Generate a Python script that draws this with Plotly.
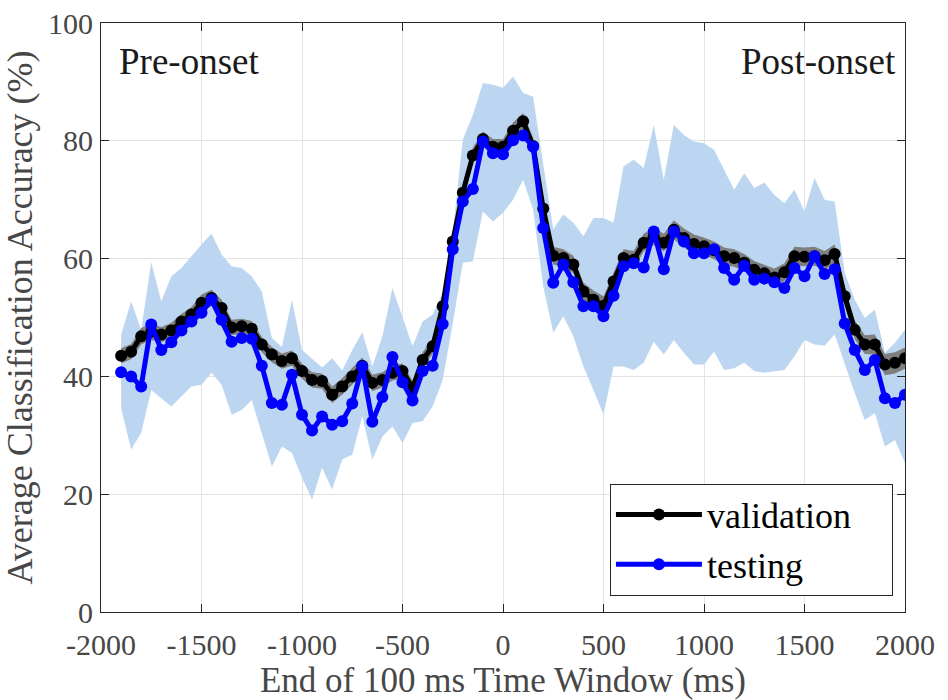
import plotly.graph_objects as go

# ---- data ----
time_ms = list(range(-1900, 2001, 50))

validation = [43.5, 44.2, 46.8, 47.6, 47.1, 47.8, 49.3, 50.5, 52.5, 53.3,
              51.6, 48.3, 48.5, 48.1, 45.4, 43.7, 42.6, 43.1, 40.9, 39.4,
              39.2, 36.9, 38.3, 40.0, 41.8, 38.9, 39.4, 40.6, 40.9, 38.0,
              42.8, 45.1, 51.9, 62.9, 71.2, 77.5, 80.3, 79.0, 79.0, 81.7,
              83.3, 79.1, 68.5, 60.5, 60.1, 59.0, 54.4, 53.0, 52.0, 56.1,
              60.1, 59.8, 62.7, 63.8, 62.7, 64.9, 63.5, 62.5, 62.1, 61.4,
              60.4, 60.1, 59.3, 58.1, 57.5, 56.8, 57.7, 60.4, 60.3, 60.4,
              59.7, 60.8, 53.6, 47.9, 45.4, 45.4, 42.0, 42.3, 43.1]

validation_err = [1.3, 1.3, 1.4, 1.4, 1.3, 1.3, 1.3, 1.3, 1.4, 1.4,
                  1.4, 1.3, 1.3, 1.3, 1.3, 1.3, 1.3, 1.3, 1.3, 1.3,
                  1.3, 1.4, 1.4, 1.4, 1.4, 1.4, 1.3, 1.3, 1.3, 1.3,
                  1.3, 1.3, 1.3, 1.3, 1.3, 1.3, 1.3, 1.3, 1.3, 1.4,
                  1.4, 1.4, 1.4, 1.5, 1.5, 1.5, 1.5, 1.6, 1.6, 1.5,
                  1.5, 1.5, 1.5, 1.5, 1.5, 1.6, 1.6, 1.6, 1.5, 1.5,
                  1.5, 1.5, 1.5, 1.5, 1.5, 1.5, 1.5, 1.6, 1.6, 1.6,
                  1.6, 1.6, 1.6, 1.6, 1.6, 1.7, 1.8, 1.8, 1.8]

testing = [40.7, 40.0, 38.3, 48.8, 44.5, 45.8, 47.8, 49.3, 50.8, 53.0,
           49.6, 45.9, 46.5, 46.4, 41.8, 35.5, 35.2, 40.3, 33.5, 30.8,
           33.2, 31.8, 32.4, 35.4, 41.7, 32.3, 36.5, 43.3, 39.0, 35.9,
           40.9, 41.8, 48.9, 61.6, 69.7, 71.8, 79.9, 77.9, 77.7, 80.1,
           80.9, 79.0, 65.2, 55.9, 59.0, 56.0, 51.9, 51.9, 50.2, 53.7,
           58.7, 59.2, 58.5, 64.6, 58.2, 64.6, 62.9, 60.9, 60.9, 61.6,
           58.4, 56.4, 58.8, 56.4, 56.6, 56.0, 55.0, 58.4, 57.0, 60.4,
           57.4, 58.2, 49.0, 44.5, 41.1, 42.8, 36.3, 35.5, 36.9]

testing_upper = [47.1, 52.7, 47.9, 59.4, 52.7, 57.0, 58.4, 60.4, 62.4, 64.2,
                 60.7, 58.7, 58.4, 57.0, 54.4, 46.5, 45.0, 53.0, 44.5, 43.0,
                 41.5, 43.1, 41.0, 44.5, 47.5, 41.7, 46.8, 55.0, 49.9, 45.1,
                 49.3, 50.5, 54.2, 64.3, 80.2, 84.4, 89.8, 89.5, 89.0, 90.9,
                 88.1, 87.5, 76.0, 65.0, 67.5, 66.1, 63.8, 66.9, 66.9, 66.1,
                 75.7, 76.8, 75.4, 82.7, 73.4, 82.7, 81.0, 79.9, 79.6, 78.5,
                 75.1, 71.7, 74.5, 72.0, 72.9, 70.8, 69.4, 71.7, 68.0, 73.7,
                 70.0, 69.7, 57.6, 53.0, 49.9, 51.3, 44.0, 45.7, 47.9]

testing_lower = [34.6, 27.6, 30.4, 37.7, 36.3, 34.9, 36.6, 38.3, 38.6, 40.6,
                 38.6, 33.5, 34.3, 36.0, 30.4, 24.7, 28.1, 27.0, 22.8, 19.1,
                 24.5, 20.8, 25.9, 26.7, 33.2, 25.9, 29.8, 31.5, 28.7, 32.1,
                 32.4, 34.9, 39.4, 49.0, 59.3, 59.5, 68.0, 66.3, 67.8, 70.0,
                 73.4, 68.3, 55.3, 47.4, 50.2, 46.8, 41.7, 37.7, 33.5, 41.7,
                 41.7, 41.1, 42.3, 45.9, 43.7, 46.2, 44.0, 42.0, 42.0, 44.2,
                 41.1, 41.4, 42.3, 40.9, 40.6, 40.9, 41.1, 43.4, 46.2, 45.4,
                 45.2, 47.1, 42.3, 37.2, 32.6, 33.8, 28.1, 29.2, 25.3]

x_ticks = [-2000, -1500, -1000, -500, 0, 500, 1000, 1500, 2000]
x_tick_labels = ["-2000", "-1500", "-1000", "-500", "0", "500", "1000", "1500", "2000"]
y_ticks = [0, 20, 40, 60, 80, 100]
series_names = ["validation", "testing"]

# ---- styles ----
FONT = "Liberation Serif"
TXT = "#474747"
BAND_BLUE = "#bcd6f1"
BAND_GREY = "#7f7f7f"
PAD = "\u00a0" * 4  # trailing room inside the legend box

fig = go.Figure()

# testing variability band
fig.add_trace(go.Scatter(
    x=time_ms + time_ms[::-1],
    y=testing_upper + testing_lower[::-1],
    fill="toself", fillcolor=BAND_BLUE, line=dict(width=0, color=BAND_BLUE),
    mode="lines", hoverinfo="skip", showlegend=False))

# validation variability band
v_up = [v + e for v, e in zip(validation, validation_err)]
v_lo = [v - e for v, e in zip(validation, validation_err)]
fig.add_trace(go.Scatter(
    x=time_ms + time_ms[::-1],
    y=v_up + v_lo[::-1],
    fill="toself", fillcolor=BAND_GREY, line=dict(width=0, color=BAND_GREY),
    mode="lines", hoverinfo="skip", showlegend=False))

fig.add_trace(go.Scatter(
    x=time_ms, y=validation, name=series_names[0] + PAD, mode="lines+markers",
    line=dict(color="black", width=5), marker=dict(color="black", size=12)))

fig.add_trace(go.Scatter(
    x=time_ms, y=testing, name=series_names[1], mode="lines+markers",
    line=dict(color="#0000ff", width=5), marker=dict(color="#0000ff", size=12)))

axis_common = dict(
    showline=True, linecolor="#262626", linewidth=1, mirror="ticks",
    ticks="inside", ticklen=8, tickcolor="#262626",
    showgrid=True, gridcolor="#e2e2e2", gridwidth=1, zeroline=False,
    tickfont=dict(family=FONT, size=30, color=TXT), automargin=False,
)

fig.update_xaxes(
    range=[-2000, 2000], tickvals=x_ticks, ticktext=x_tick_labels,
    ticklabelstandoff=6,
    title=dict(text="End of 100 ms Time Window (ms)",
               font=dict(family=FONT, size=35, color=TXT), standoff=6),
    **axis_common)
fig.update_yaxes(
    range=[0, 100], tickvals=y_ticks, ticklabelstandoff=1,
    title=dict(text="Average Classification Accuracy (%)",
               font=dict(family=FONT, size=36, color=TXT), standoff=8),
    **axis_common)

fig.add_annotation(x=0.02, y=0.935, xref="paper", yref="paper",
                   text="Pre-onset", showarrow=False, xanchor="left", yanchor="middle",
                   font=dict(family=FONT, size=37, color="#1a1a1a"))
fig.add_annotation(x=0.991, y=0.935, xref="paper", yref="paper",
                   text="Post-onset", showarrow=False, xanchor="right", yanchor="middle",
                   font=dict(family=FONT, size=37, color="#1a1a1a"))

fig.update_layout(
    width=948, height=700,
    margin=dict(l=101, r=43, t=23, b=88),
    paper_bgcolor="white", plot_bgcolor="white",
    font=dict(family=FONT, color=TXT),
    legend=dict(
        x=0.985, y=0.028, xanchor="right", yanchor="bottom",
        bgcolor="white", bordercolor="#262626", borderwidth=1,
        font=dict(family=FONT, size=36, color="black"),
        itemwidth=86, tracegroupgap=0,
    ),
)

fig.write_html("out.html")
